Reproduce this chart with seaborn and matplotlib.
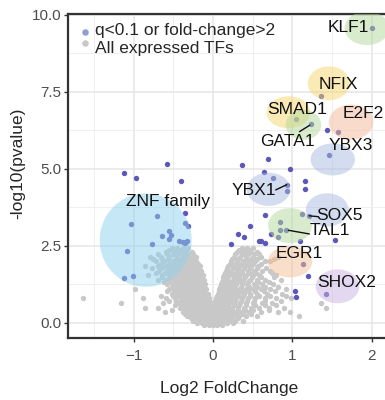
import matplotlib
matplotlib.use("Agg")
import matplotlib.pyplot as plt
from matplotlib.patches import Ellipse
import seaborn as sns

# significant TFs (blue)
sig_x = [2.01, 1.36, 1.05, 1.24, 1.44, 1.58, 1.46, -0.58, 0.36, 0.69, 0.97,
         -1.12, -0.97, -0.41, 0.64, 0.76, 1.16, 1.16, 0.93, 0.93,
         -0.35, -0.71, -1.03, -0.35, -0.32, -0.55, -0.64, -0.53, -0.56, -0.43,
         -0.38, -0.36, -0.33, -0.77, -1.08, -1.01, -1.12,
         0.65, 0.47, 0.31, 0.39, 0.22, 0.58, 0.61, 0.66, 0.73, 0.84, 0.85,
         0.92, 0.82, 1.10, 1.12, 1.21, 1.54, 1.14, 1.20, 1.03, 1.05, 1.42]
sig_y = [9.59, 7.38, 6.61, 6.46, 6.27, 6.21, 5.44, 5.17, 5.12, 5.31, 5.01,
         4.86, 4.70, 4.60, 4.89, 4.70, 4.60, 4.34, 4.49, 4.29,
         3.56, 3.48, 3.21, 3.24, 3.16, 3.00, 2.82, 2.86, 2.73, 2.67,
         2.64, 2.61, 2.66, 2.58, 2.35, 1.54, 1.45,
         3.51, 3.16, 2.89, 2.78, 2.58, 2.65, 2.65, 2.60, 2.88, 3.29, 3.03,
         3.01, 2.78, 2.67, 3.54, 3.48, 2.69, 1.91, 1.53, 1.04, 0.83, 0.95]

grey_rows = [
    (2.45, [-0.52, -0.45, -0.38, -0.31, 0.36, 0.43, 0.50]),
    (2.38, [-0.56, -0.49, -0.41, -0.34, 0.33, 0.39, 0.47]),
    (2.30, [-0.60, -0.48, -0.42, -0.35, -0.27, 0.30, 0.40, 0.46, 0.55]),
    (2.23, [-0.70, -0.58, -0.51, -0.44, -0.37, -0.31, -0.25, 0.28, 0.37, 0.44, 0.52, 0.58]),
    (2.15, [-0.80, -0.66, -0.55, -0.46, -0.38, -0.30, -0.22, 0.26, 0.34, 0.42, 0.50, 0.60, 0.82]),
    (2.08, [-0.76, -0.64, -0.57, -0.47, -0.41, -0.33, -0.25, 0.24, 0.32, 0.41, 0.48, 0.56, 0.77]),
    (2.00, [-0.72, -0.62, -0.50, -0.43, -0.36, -0.28, -0.21, 0.22, 0.30, 0.38, 0.45, 0.53, 0.65, 0.72]),
    (1.93, [-0.66, -0.56, -0.48, -0.40, -0.33, -0.26, -0.19, 0.21, 0.28, 0.35, 0.43, 0.50, 0.61]),
    (1.85, [-0.86, -0.70, -0.60, -0.52, -0.44, -0.37, -0.30, -0.23, -0.17, 0.19, 0.26, 0.33, 0.40, 0.48, 0.57]),
    (1.78, [-0.77, -0.64, -0.55, -0.47, -0.40, -0.32, -0.26, -0.19, 0.17, 0.25, 0.32, 0.39, 0.46, 0.55, 0.67]),
    (1.70, [-0.68, -0.58, -0.50, -0.42, -0.35, -0.28, -0.22, -0.15, 0.16, 0.23, 0.30, 0.37, 0.44, 0.52, 0.62, 0.72]),
    (1.63, [-0.72, -0.61, -0.53, -0.45, -0.38, -0.31, -0.24, -0.17, 0.15, 0.22, 0.29, 0.36, 0.45, 0.54, 0.74]),
    (1.55, [-0.82, -0.65, -0.55, -0.47, -0.40, -0.33, -0.26, -0.20, -0.13, 0.14, 0.20, 0.27, 0.34, 0.42, 0.50, 0.58, 0.80]),
    (1.48, [-0.64, -0.56, -0.49, -0.42, -0.35, -0.28, -0.22, -0.15, 0.13, 0.19, 0.26, 0.33, 0.40, 0.49, 0.60, 0.77]),
    (1.40, [-0.70, -0.60, -0.52, -0.45, -0.38, -0.31, -0.25, -0.18, -0.12, 0.12, 0.18, 0.25, 0.31, 0.38, 0.46, 0.55, 0.66, 0.86]),
    (1.33, [-0.62, -0.54, -0.47, -0.40, -0.33, -0.27, -0.21, -0.14, 0.11, 0.17, 0.23, 0.30, 0.37, 0.44, 0.57, 0.70]),
    (1.25, [-0.58, -0.50, -0.43, -0.36, -0.30, -0.24, -0.17, -0.10, 0.10, 0.16, 0.22, 0.29, 0.36, 0.43, 0.52, 0.62, 0.75]),
    (1.18, [-0.52, -0.45, -0.38, -0.32, -0.26, -0.19, -0.13, 0.09, 0.15, 0.21, 0.28, 0.35, 0.45, 0.55, 0.66, 0.82]),
    (1.10, [-0.98, -0.55, -0.47, -0.40, -0.34, -0.28, -0.21, -0.15, -0.09, 0.08, 0.14, 0.20, 0.27, 0.34, 0.41, 0.50, 0.60, 0.72, 0.92]),
    (1.03, [-0.58, -0.49, -0.42, -0.36, -0.30, -0.23, -0.17, -0.11, 0.07, 0.13, 0.19, 0.23, 0.30, 0.37, 0.44, 0.53, 0.64, 0.78]),
    (0.95, [-0.52, -0.45, -0.38, -0.32, -0.26, -0.20, -0.13, -0.07, 0.06, 0.12, 0.18, 0.25, 0.32, 0.39, 0.47, 0.56, 0.68, 0.87]),
    (0.88, [-0.66, -0.50, -0.43, -0.37, -0.31, -0.25, -0.19, -0.14, -0.08, 0.05, 0.11, 0.17, 0.23, 0.31, 0.38, 0.46, 0.58, 0.72, 0.92]),
    (0.80, [-1.64, -0.88, -0.60, -0.48, -0.41, -0.35, -0.29, -0.23, -0.17, -0.11, -0.05, 0.04, 0.10, 0.16, 0.22, 0.29, 0.36, 0.44, 0.53, 0.65, 0.80, 0.98]),
    (0.73, [-0.55, -0.47, -0.40, -0.34, -0.28, -0.22, -0.16, -0.10, -0.05, 0.03, 0.09, 0.15, 0.21, 0.28, 0.35, 0.43, 0.52, 0.66, 0.86]),
    (0.65, [-1.16, -0.63, -0.45, -0.38, -0.32, -0.26, -0.20, -0.14, -0.08, -0.03, 0.02, 0.08, 0.14, 0.20, 0.27, 0.34, 0.42, 0.50, 0.62, 0.74, 1.36]),
    (0.58, [-0.48, -0.40, -0.33, -0.27, -0.21, -0.15, -0.09, -0.04, 0.01, 0.07, 0.13, 0.19, 0.26, 0.33, 0.41, 0.53, 0.66, 0.80]),
    (0.50, [-0.86, -0.70, -0.42, -0.35, -0.29, -0.23, -0.17, -0.11, -0.05, 0.00, 0.05, 0.11, 0.17, 0.24, 0.31, 0.39, 0.48, 0.58, 0.70, 0.90, 1.43]),
    (0.43, [-0.52, -0.36, -0.29, -0.22, -0.16, -0.10, -0.05, 0.00, 0.06, 0.12, 0.18, 0.24, 0.32, 0.40, 0.51, 0.70]),
    (0.35, [-0.61, -0.38, -0.31, -0.25, -0.19, -0.13, -0.07, -0.02, 0.03, 0.09, 0.15, 0.21, 0.28, 0.36, 0.45, 0.60, 0.82, 0.97]),
    (0.28, [-0.36, -0.29, -0.23, -0.17, -0.11, -0.06, -0.01, 0.04, 0.10, 0.16, 0.22, 0.30, 0.38, 0.48]),
    (0.22, [-0.33, -0.27, -0.21, -0.15, -0.09, -0.04, 0.01, 0.06, 0.12, 0.18, 0.25, 0.33, 0.42, 0.55, 1.09]),
    (0.15, [-0.28, -0.22, -0.16, -0.10, -0.05, 0.00, 0.05, 0.11, 0.17, 0.23, 0.32]),
    (0.08, [-0.25, -0.18, -0.12, -0.06, -0.02, 0.03, 0.08, 0.14, 0.20, 0.28, 0.38]),
    (0.01, [-0.20, -0.14, -0.08, -0.03, 0.02, 0.07, 0.12, 0.18, 0.25]),
    (-0.05, [-0.12, -0.05, 0.00, 0.05, 0.11]),
]
grey_x = [x for y, xs in grey_rows for x in xs]
grey_y = [y for y, xs in grey_rows for x in xs]

# highlighted groups: name, colour, bubble centre and size, label spot
bubbles = [
    ("KLF1", "#b5d99c", (1.94, 9.57), 0.56, 1.10, (1.70, 9.58)),
    ("NFIX", "#f5d76e", (1.46, 7.78), 0.53, 1.10, (1.58, 7.74)),
    ("SMAD1", "#f5d76e", (0.95, 6.84), 0.55, 1.04, (1.06, 6.93)),
    ("GATA1", "#b5d99c", (1.14, 6.43), 0.45, 0.97, (0.94, 5.88)),
    ("E2F2", "#f5b99a", (1.74, 6.52), 0.56, 1.14, (1.90, 6.80)),
    ("YBX3", "#a9bde0", (1.51, 5.31), 0.56, 1.04, (1.74, 5.77)),
    ("YBX1", "#a9bde0", (0.70, 4.34), 0.55, 1.08, (0.51, 4.29)),
    ("SOX5", "#a9bde0", (1.44, 3.67), 0.54, 1.08, (1.60, 3.50)),
    ("TAL1", "#b5d99c", (0.97, 3.16), 0.55, 1.14, (1.47, 3.01)),
    ("EGR1", "#f5be94", (0.97, 1.99), 0.56, 1.02, (1.085, 2.24)),
    ("SHOX2", "#c9b3e3", (1.57, 1.19), 0.55, 1.10, (1.69, 1.32)),
    ("ZNF family", "#8fd0ee", (-0.85, 2.69), 1.16, 3.03, (-0.57, 3.94)),
]
# label connector lines: label end -> point
connectors = [((1.09, 6.21), (1.22, 6.42)),
              ((0.79, 4.32), (0.93, 4.49)),
              ((1.21, 3.48), (1.33, 3.45)),
              ((0.95, 3.01), (1.215, 2.89))]

sns.set_theme(style="white")
plt.rcParams["font.family"] = ["Liberation Sans", "DejaVu Sans"]

fig = plt.figure(figsize=(3.85, 4.0), dpi=100)
ax = fig.add_axes([68 / 385, 62 / 400, 317 / 385, 324 / 400])

sns.scatterplot(x=grey_x, y=grey_y, color="#c8c8c8", s=15, linewidth=0, ax=ax, zorder=3)
sns.scatterplot(x=sig_x, y=sig_y, color="#5b58b8", s=15, linewidth=0, ax=ax, zorder=4)

for name, col, c, w, h, lab in bubbles:
    ax.add_patch(Ellipse(c, w, h, facecolor=col, edgecolor="none", alpha=0.5, zorder=5))
    ax.text(lab[0], lab[1], name, fontsize=12.5, color="#111111", ha="center", va="center",
            zorder=7, clip_on=False)
for (a, b) in connectors:
    ax.plot([a[0], b[0]], [a[1], b[1]], color="#111111", lw=1.0, zorder=6)

ax.set_xlim(-1.83, 2.169)
ax.set_ylim(-0.487, 10.03)
ax.set_xticks([-1, 0, 1, 2])
ax.set_yticks([0, 2.5, 5, 7.5, 10])
ax.set_yticklabels(["0.0", "2.5", "5.0", "7.5", "10.0"])
ax.set_xticks([-1.5, -0.5, 0.5, 1.5], minor=True)
ax.set_yticks([1.25, 3.75, 6.25, 8.75], minor=True)
ax.grid(which="major", color="#e6e6e6", lw=1.1, zorder=0)
ax.grid(which="minor", color="#efefef", lw=0.7, zorder=0)
ax.set_axisbelow(True)
ax.tick_params(which="major", length=3, width=1, color="#333333", labelsize=11,
               labelcolor="#4d4d4d", left=True, bottom=True)
ax.tick_params(axis="x", pad=5)
ax.tick_params(axis="y", pad=2)
ax.tick_params(which="minor", length=0)
for side in ["left", "top", "bottom"]:
    ax.spines[side].set_color("#333333")
    ax.spines[side].set_linewidth(1.6)
ax.spines["right"].set_visible(False)

ax.set_xlabel("")
ax.set_ylabel("")
fig.text(229 / 385, 1 - 389 / 400, "Log2 FoldChange", fontsize=12.5, ha="center", va="center")
fig.text(18 / 385, 1 - 163 / 400, "-log10(pvalue)", fontsize=12.5, ha="center", va="center",
         rotation=90)

# legend
ax.scatter([0.053], [0.944], s=22, color="#8f9fd6", linewidth=0, transform=ax.transAxes, zorder=8)
ax.scatter([0.053], [0.910], s=22, color="#c8c8c8", linewidth=0, transform=ax.transAxes, zorder=8)
ax.text(0.085, 0.950, "q<0.1 or fold-change>2", fontsize=12.5, va="center", ha="left",
        transform=ax.transAxes, zorder=8)
ax.text(0.085, 0.893, "All expressed TFs", fontsize=12.5, va="center", ha="left",
        transform=ax.transAxes, zorder=8)

fig.savefig("out.png", dpi=100)
